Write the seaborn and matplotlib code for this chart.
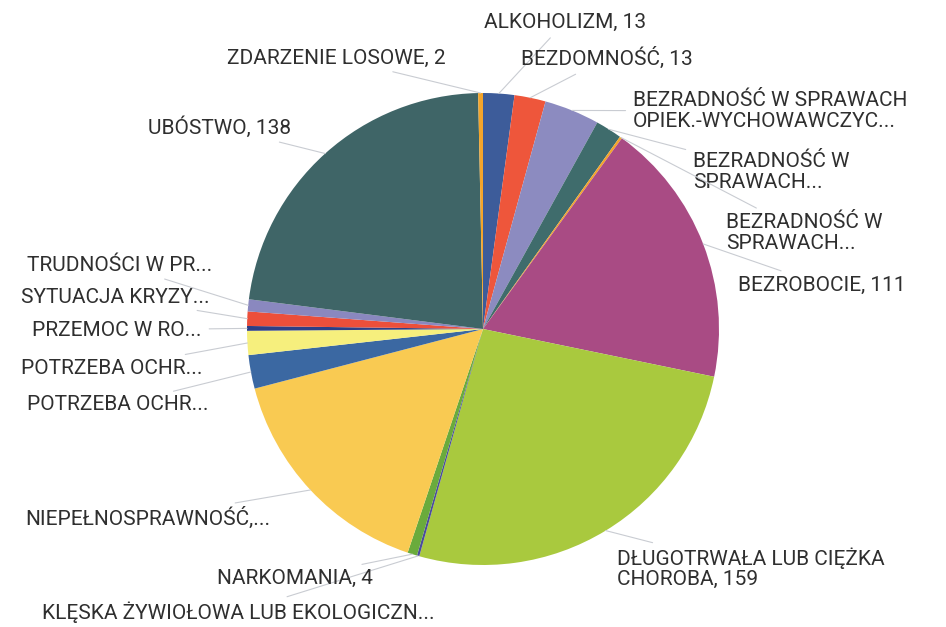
import matplotlib.pyplot as plt
import numpy as np
import seaborn as sns

sns.set_theme(style="white")
plt.rcParams["font.family"] = ["Roboto", "DejaVu Sans"]

# slices, clockwise from 12 o'clock
categories = [
    "ALKOHOLIZM", "BEZDOMNOŚĆ", "BEZRADNOŚĆ W SPRAWACH OPIEK.-WYCHOWAWCZYCH",
    "BEZRADNOŚĆ W SPRAWACH PROWADZENIA GOSP. DOMOWEGO",
    "BEZRADNOŚĆ W SPRAWACH (INNE)", "BEZROBOCIE",
    "DŁUGOTRWAŁA LUB CIĘŻKA CHOROBA", "KLĘSKA ŻYWIOŁOWA LUB EKOLOGICZNA",
    "NARKOMANIA", "NIEPEŁNOSPRAWNOŚĆ", "POTRZEBA OCHRONY MACIERZYŃSTWA",
    "POTRZEBA OCHRONY OFIAR HANDLU LUDŹMI", "PRZEMOC W RODZINIE",
    "SYTUACJA KRYZYSOWA", "TRUDNOŚCI W PRZYSTOSOWANIU", "UBÓSTWO",
    "ZDARZENIE LOSOWE",
]
values = [13, 13, 23, 11, 1, 111, 159, 1, 4, 96, 14, 10, 2, 6, 5, 138, 2]
label_texts = [
    "ALKOHOLIZM, 13", "BEZDOMNOŚĆ, 13",
    "BEZRADNOŚĆ W SPRAWACH\nOPIEK.-WYCHOWAWCZYC...",
    "BEZRADNOŚĆ W\nSPRAWACH...", "BEZRADNOŚĆ W\nSPRAWACH...",
    "BEZROBOCIE, 111", "DŁUGOTRWAŁA LUB CIĘŻKA\nCHOROBA, 159",
    "KLĘSKA ŻYWIOŁOWA LUB EKOLOGICZN...", "NARKOMANIA, 4",
    "NIEPEŁNOSPRAWNOŚĆ,...", "POTRZEBA OCHR...", "POTRZEBA OCHR...",
    "PRZEMOC W RO...", "SYTUACJA KRYZY...", "TRUDNOŚCI W PR...",
    "UBÓSTWO, 138", "ZDARZENIE LOSOWE, 2",
]
colors = [
    "#3d5c9a", "#ee563b", "#8c8bc0", "#3f6c6c", "#f4a52a", "#a94b84",
    "#a9c93e", "#4b4c9c", "#6aab3c", "#f9ca52", "#3b68a2", "#f6ef7d",
    "#2d3f86", "#ec4f3b", "#8a88bf", "#3f6567", "#f4a52a",
]

# label anchors in pixels (x, y, ha)
label_pos = [
    (565, 22, "center"), (607, 58, "center"), (633, 111, "left"),
    (693, 172, "left"), (726, 233, "left"), (822, 285, "center"),
    (617, 568, "left"), (238, 612, "center"), (295, 578, "center"),
    (148, 518, "center"), (118, 405, "center"), (112, 368, "center"),
    (117, 330, "center"), (115, 297, "center"), (120, 265, "center"),
    (219, 127, "center"), (336, 58, "center"),
]

W, H = 946, 627
CX, CY, R = 483, 329, 236


def to_data(px, py):
    return (px - CX) / R, (CY - py) / R


fig = plt.figure(figsize=(W / 100, H / 100), dpi=100)
ax = fig.add_axes([0, 0, 1, 1])
wedges, _ = ax.pie(values, colors=colors, startangle=90, counterclock=False,
                   radius=1, wedgeprops=dict(linewidth=0))
ax.set_xlim(to_data(0, 0)[0], to_data(W, 0)[0])
ax.set_ylim(to_data(0, H)[1], to_data(0, 0)[1])
ax.set_aspect("equal")
ax.axis("off")

for w, text, (px, py, ha) in zip(wedges, label_texts, label_pos):
    mid = np.deg2rad((w.theta1 + w.theta2) / 2)
    tip = (np.cos(mid), np.sin(mid))
    ax.annotate(text, xy=tip, xytext=to_data(px, py), ha=ha, va="center",
                fontsize=15, color="#2f2f2f", linespacing=1.1,
                multialignment="left",
                arrowprops=dict(arrowstyle="-", color="#c9ccd2", lw=0.8,
                                shrinkA=3, shrinkB=0))

fig.savefig("out.png", dpi=100)
